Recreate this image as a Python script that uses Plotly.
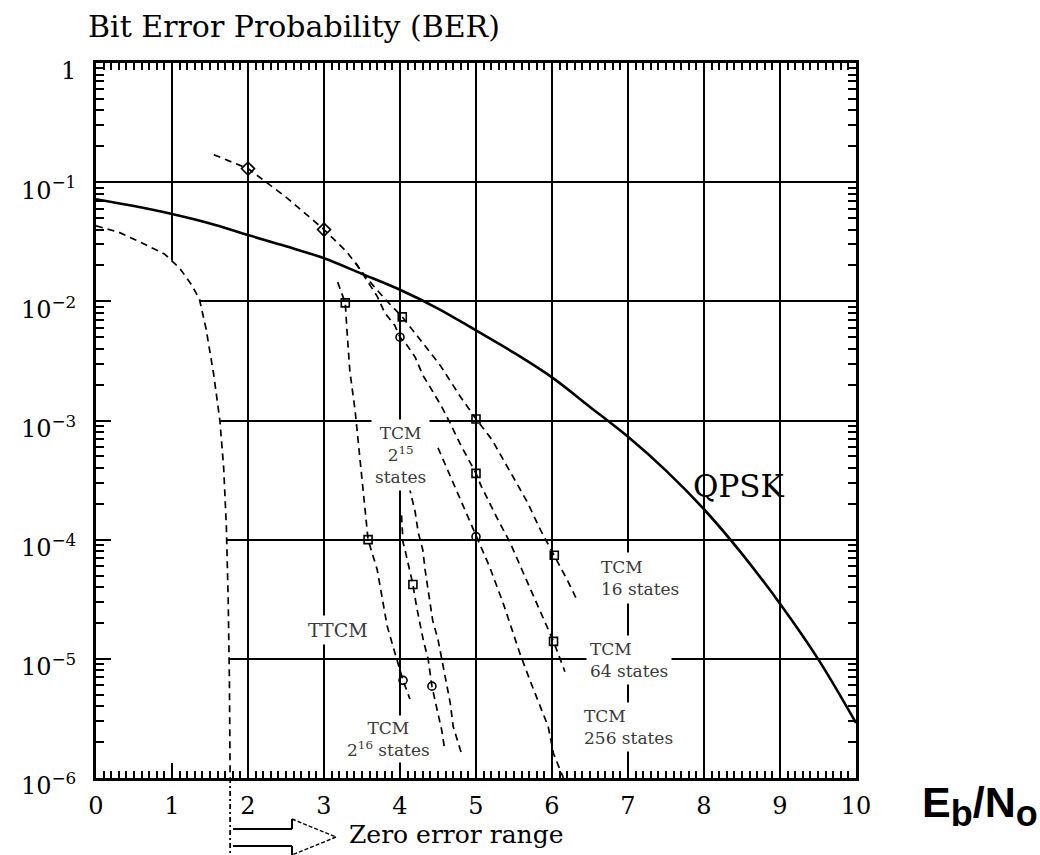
import plotly.graph_objects as go

# ---------------- data ----------------
qpsk_x = [0, 0.5, 1, 1.5, 2, 2.5, 3, 3.5, 4, 4.5, 5, 5.5, 6, 6.5, 7, 7.5, 8, 8.5, 9, 9.5, 10]
qpsk_y = [0.072, 0.063, 0.054, 0.045, 0.036, 0.029, 0.023, 0.017, 0.0125, 0.0087, 0.0057,
          0.0037, 0.0023, 0.0013, 7.3e-4, 3.8e-4, 1.8e-4, 7.6e-5, 2.9e-5, 1.0e-5, 2.9e-6]

limit_x = [0, 0.3, 0.6, 0.9, 1.1, 1.25, 1.36, 1.45, 1.55, 1.63, 1.68, 1.715, 1.74, 1.755, 1.765]
limit_y = [0.043, 0.038, 0.031, 0.025, 0.019, 0.014, 0.0105, 0.0058, 0.0024, 0.001,
           4e-4, 1.3e-4, 3e-5, 7e-6, 1e-6]

tcm16_x = [1.55, 2.0, 2.5, 3.0, 3.3, 3.55, 3.8, 4.03, 4.24, 4.53, 4.79, 5.0, 5.21, 5.43,
           5.67, 5.85, 6.03, 6.2, 6.33]
tcm16_y = [0.17, 0.13, 0.075, 0.04, 0.026, 0.016, 0.0105, 0.0074, 0.005, 0.0029, 0.0016,
           0.00103, 6.9e-4, 3.9e-4, 2.1e-4, 1.2e-4, 7.4e-5, 4.6e-5, 3.1e-5]

tcm64_x = [3.42, 3.6, 3.7, 3.8, 3.93, 4.0, 4.09, 4.2, 4.3, 4.42, 4.55, 4.66, 4.8, 5.0,
           5.07, 5.27, 5.45, 5.62, 5.8, 5.91, 6.02, 6.17]
tcm64_y = [0.021, 0.014, 0.011, 0.008, 0.0063, 0.005, 0.0043, 0.0034, 0.0024, 0.0018,
           0.0013, 9.5e-4, 6.2e-4, 3.6e-4, 2.8e-4, 1.55e-4, 9.4e-5, 5.3e-5, 2.9e-5,
           2e-5, 1.4e-5, 7.8e-6]

tcm256_x = [4.5, 4.7, 4.85, 5.0, 5.18, 5.36, 5.58, 5.71, 5.84, 5.95, 6.02, 6.15]
tcm256_y = [5.9e-4, 3e-4, 1.8e-4, 1.06e-4, 5.9e-5, 2.9e-5, 1.1e-5, 6.6e-6, 4e-6,
            2.7e-6, 1.6e-6, 1.0e-6]

ttcm_x = [3.18, 3.28, 3.3, 3.34, 3.41, 3.46, 3.51, 3.58, 3.7, 3.83, 3.91, 3.96, 4.04, 4.13]
ttcm_y = [0.0145, 0.0097, 0.006, 0.0026, 0.0012, 6e-4, 3e-4, 1e-4, 5.6e-5, 1.9e-5,
          1.26e-5, 1e-5, 6.6e-6, 4.6e-6]

tcm2_16_x = [4.02, 4.04, 4.07, 4.17, 4.22, 4.26, 4.31, 4.37, 4.42, 4.49, 4.55, 4.59]
tcm2_16_y = [1.6e-4, 9.5e-5, 8e-5, 4.2e-5, 2.7e-5, 2e-5, 1.4e-5, 1e-5, 5.9e-6, 3.7e-6,
             2.5e-6, 1.7e-6]

tcm2_15_x = [4.12, 4.16, 4.2, 4.24, 4.3, 4.33, 4.37, 4.43, 4.5, 4.55, 4.61, 4.66, 4.7, 4.81]
tcm2_15_y = [2.8e-4, 2.2e-4, 1.7e-4, 1.15e-4, 8.2e-5, 5.6e-5, 3.8e-5, 2.1e-5, 1.45e-5,
             1e-5, 6.6e-6, 4.3e-6, 2.7e-6, 1.6e-6]

square_x = [3.28, 3.58, 4.03, 5.0, 6.03, 5.0, 6.02, 4.17]
square_y = [0.0097, 1e-4, 0.0074, 0.00103, 7.4e-5, 3.6e-4, 1.4e-5, 4.2e-5]
circle_x = [4.0, 5.0, 4.04, 4.42]
circle_y = [0.005, 1.06e-4, 6.6e-6, 5.9e-6]
diamond_x = [2.0, 3.0]
diamond_y = [0.13, 0.04]

x_ticks = list(range(0, 11))
y_tickvals = [1e-6, 1e-5, 1e-4, 1e-3, 1e-2, 1e-1, 1]
y_ticktext = ["10<sup>\u22126</sup>", "10<sup>\u22125</sup>", "10<sup>\u22124</sup>",
              "10<sup>\u22123</sup>", "10<sup>\u22122</sup>", "10<sup>\u22121</sup>", "1"]

# ---------------- layout helpers ----------------
W, H = 1040, 855
L, R, T, B = 96, 856, 63, 778


def px(xp):
    return (xp - L) / (R - L)


def py(yp):
    return (B - yp) / (B - T)


SERIF = "DejaVu Serif"
DASH = "7px,5px"

fig = go.Figure()

# white region left of / below the limit curve (no grid there)
fig.add_trace(go.Scatter(
    x=limit_x + [limit_x[-1], 0],
    y=limit_y + [limit_y[-1], limit_y[-1]],
    mode="none", fill="toself", fillcolor="white", hoverinfo="skip", showlegend=False))

for xs, ys in [(limit_x, limit_y), (tcm16_x, tcm16_y), (tcm64_x, tcm64_y),
               (tcm256_x, tcm256_y), (ttcm_x, ttcm_y), (tcm2_16_x, tcm2_16_y),
               (tcm2_15_x, tcm2_15_y)]:
    fig.add_trace(go.Scatter(x=xs, y=ys, mode="lines",
                             line=dict(color="black", width=1.7, dash=DASH),
                             showlegend=False))

fig.add_trace(go.Scatter(x=qpsk_x, y=qpsk_y, mode="lines", line_shape="spline",
                         line=dict(color="black", width=2.6), showlegend=False))

for xs, ys, sym, sz in [(square_x, square_y, "square-open", 8),
                        (circle_x, circle_y, "circle-open", 8),
                        (diamond_x, diamond_y, "diamond-open", 10)]:
    fig.add_trace(go.Scatter(x=xs, y=ys, mode="markers",
                             marker=dict(symbol=sym, size=sz, color="black",
                                         line=dict(color="black", width=1.6)),
                             showlegend=False))

minor_y = [k * 10 ** n for n in range(-6, 0) for k in range(2, 10)]

fig.update_layout(
    width=W, height=H,
    margin=dict(l=L, r=W - R, t=T, b=H - B, pad=0, autoexpand=False),
    paper_bgcolor="white", plot_bgcolor="white",
    showlegend=False,
    xaxis=dict(range=[0, 10], tickmode="array", tickvals=x_ticks,
               ticks="inside", ticklen=15, tickwidth=2, tickcolor="black",
               minor=dict(tickmode="linear", tick0=0, dtick=0.1, ticks="inside",
                          ticklen=7, tickwidth=1.5, tickcolor="black", showgrid=False),
               showgrid=True, gridcolor="black", gridwidth=2,
               showline=True, linecolor="black", linewidth=3, mirror="ticks",
               zeroline=False, ticklabelstandoff=4,
               tickfont=dict(family=SERIF, size=24, color="black")),
    yaxis=dict(type="log", range=[-6, 0], tickmode="array", tickvals=y_tickvals,
               ticktext=y_ticktext,
               ticks="inside", ticklen=15, tickwidth=2, tickcolor="black",
               minor=dict(tickmode="array", tickvals=minor_y, ticks="inside",
                          ticklen=8, tickwidth=1.5, tickcolor="black", showgrid=False),
               showgrid=True, gridcolor="black", gridwidth=2,
               showline=True, linecolor="black", linewidth=3, mirror="ticks",
               zeroline=False, ticklabelstandoff=12, ticklabelshift=8,
               tickfont=dict(family=SERIF, size=24, color="black")),
)

# ---------------- text ----------------
LBL = dict(family=SERIF, size=17, color="#3a3a3a")
annos = [
    dict(x=px(86), y=py(26), text="Bit Error Probability (BER)", xanchor="left",
         yanchor="middle", font=dict(family=SERIF, size=30, color="black")),
    dict(x=px(739), y=py(486), text="QPSK", xanchor="center", yanchor="middle",
         font=dict(family=SERIF, size=31, color="black")),
    dict(x=px(400), y=py(455), text="TCM<br>2<sup>15</sup><br>states", align="center",
         xanchor="center", yanchor="middle", font=LBL, bgcolor="white", borderpad=3),
    dict(x=px(338), y=py(630), text="TTCM", xanchor="center", yanchor="middle",
         font=dict(family=SERIF, size=19, color="#3a3a3a"), bgcolor="white", borderpad=3),
    dict(x=px(596), y=py(578), text="TCM<br>16 states", align="left", xanchor="left",
         yanchor="middle", font=LBL, bgcolor="white", borderpad=4),
    dict(x=px(586), y=py(660), text="TCM<br>64 states", align="left", xanchor="left",
         yanchor="middle", font=LBL, bgcolor="white", borderpad=3),
    dict(x=px(580), y=py(727), text="TCM<br>256 states", align="left", xanchor="left",
         yanchor="middle", font=LBL, bgcolor="white", borderpad=3),
    dict(x=px(388), y=py(739), text="TCM<br>2<sup>16</sup> states", align="center",
         xanchor="center", yanchor="middle", font=LBL, bgcolor="white", borderpad=2),
    dict(x=px(920), y=py(806),
         text="E<sub><span style='font-size:36px'>b</span></sub>/N<sub><span style='font-size:36px'>o</span></sub>",
         xanchor="left", yanchor="middle",
         font=dict(family="Liberation Sans", size=43, color="black", weight="bold")),
    dict(x=px(347), y=py(835), text="Zero error range", xanchor="left", yanchor="middle",
         font=dict(family=SERIF, size=25, color="black")),
]
for a in annos:
    a.update(xref="paper", yref="paper", showarrow=False)
fig.update_layout(annotations=annos)

# ---------------- shapes ----------------
shapes = [
    # white break in grid behind the QPSK label (below the curve)
    dict(type="rect", xref="paper", yref="paper", x0=px(687), x1=px(792), y0=py(507),
         y1=py(453), fillcolor="white", line=dict(width=0), layer="between"),
    # dashed continuation of the limit below the axis
    dict(type="line", xref="paper", yref="paper", x0=limit_x[-1] / 10, x1=limit_x[-1] / 10,
         y0=0, y1=py(856), line=dict(color="black", width=1.8, dash="5px,3px,2px,3px")),
    # hollow arrow
    dict(type="line", xref="paper", yref="paper", x0=px(233), x1=px(292), y0=py(829),
         y1=py(829), line=dict(color="black", width=2)),
    dict(type="line", xref="paper", yref="paper", x0=px(233), x1=px(292), y0=py(846),
         y1=py(846), line=dict(color="black", width=2)),
    dict(type="line", xref="paper", yref="paper", x0=px(292), x1=px(292), y0=py(829),
         y1=py(819), line=dict(color="black", width=2)),
    dict(type="line", xref="paper", yref="paper", x0=px(292), x1=px(292), y0=py(846),
         y1=py(856), line=dict(color="black", width=2)),
    dict(type="line", xref="paper", yref="paper", x0=px(292), x1=px(336), y0=py(819),
         y1=py(837), line=dict(color="black", width=1.4, dash="4px,2px")),
    dict(type="line", xref="paper", yref="paper", x0=px(336), x1=px(292), y0=py(837),
         y1=py(855), line=dict(color="black", width=1.4, dash="4px,2px")),
]
fig.update_layout(shapes=shapes)

fig.write_html("out.html", config={"displayModeBar": False},
               post_script="document.body.style.margin='0px';")
